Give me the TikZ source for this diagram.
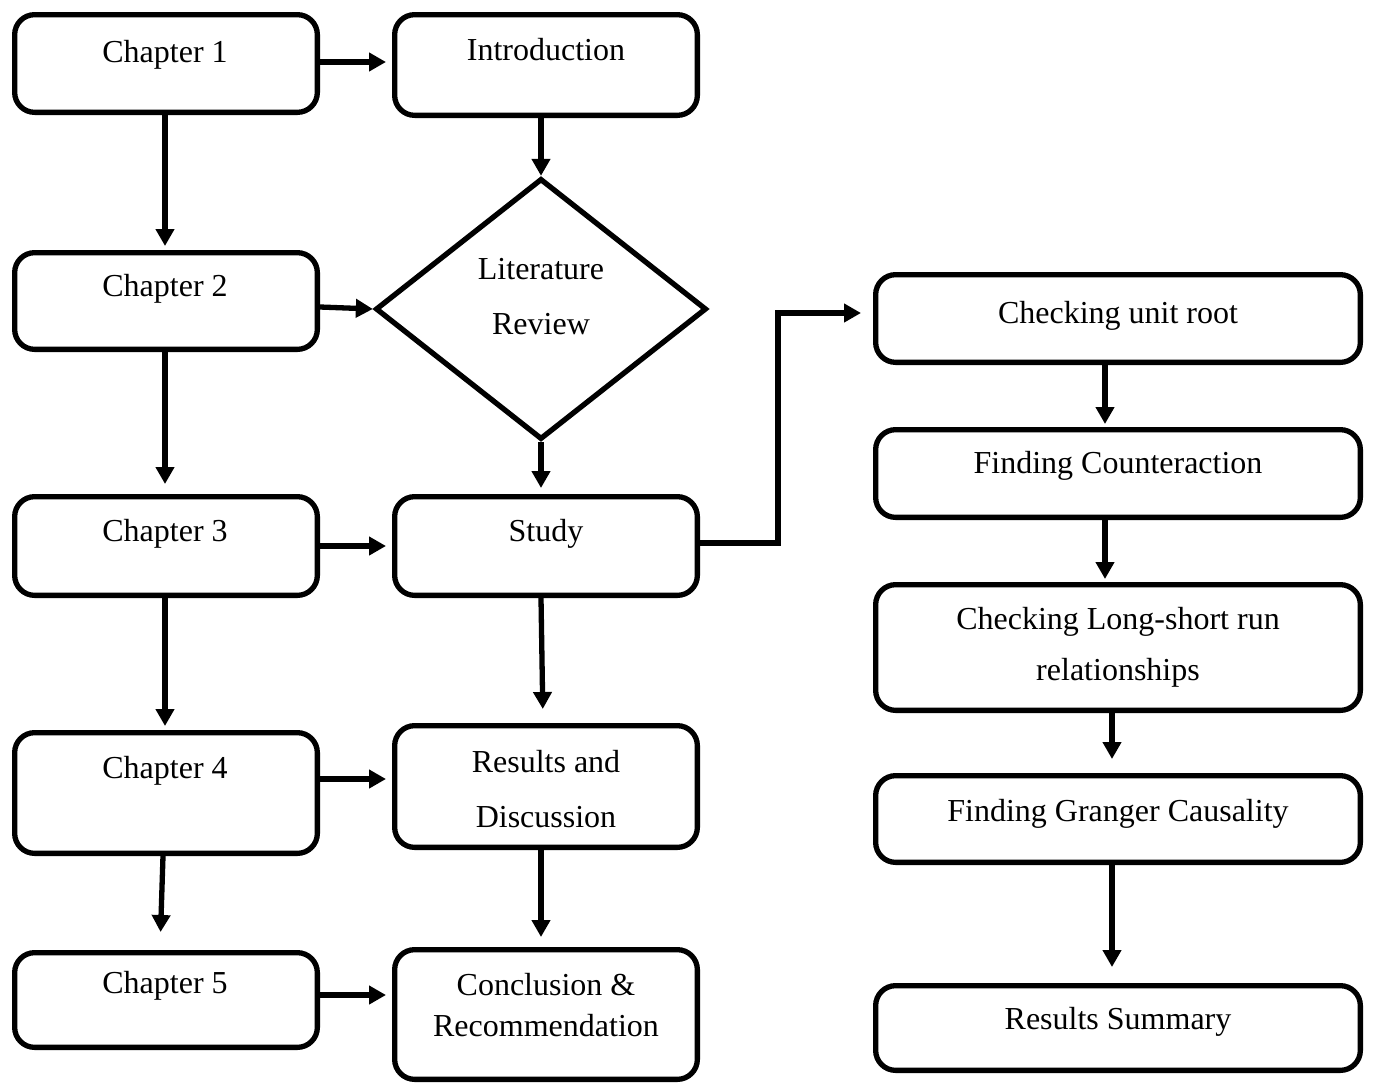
\documentclass[tikz,border=0pt]{standalone}
\usepackage{fontspec}
\setmainfont{Liberation Serif}
\usetikzlibrary{shapes.geometric,arrows.meta,calc}
\begin{document}
\begin{tikzpicture}[x=1pt,y=-1pt,
  box/.style={draw,line width=5.3pt,rounded corners=20pt,inner sep=0pt,minimum width=302.7pt},
  rbox/.style={box,minimum width=484.7pt},
  lbl/.style={anchor=base,inner sep=0pt,font=\fontsize{32}{40}\selectfont},
  arr/.style={line width=5.3pt,-{Triangle[length=17pt,width=18pt]}}]
\useasboundingbox (0,0) rectangle (1373,1084);
% left column boxes
\node[box,minimum height=97.7pt] (c1) at (166,63.5) {};
\node[box,minimum height=96.7pt] (c2) at (166,301) {};
\node[box,minimum height=98.7pt] (c3) at (166,546) {};
\node[box,minimum height=120.7pt] (c4) at (166,793) {};
\node[box,minimum height=94.7pt] (c5) at (166,1000) {};
% middle column
\node[box,minimum height=100.7pt] (intro) at (546,65) {};
\node[draw,diamond,line width=5.3pt,inner sep=0pt,minimum width=331pt,minimum height=261pt] (lit) at (541,309) {};
\node[box,minimum height=98.7pt] (study) at (546,546) {};
\node[box,minimum height=121.7pt] (res) at (546,786.5) {};
\node[box,minimum height=129.7pt] (conc) at (546,1014.5) {};
% right column
\node[rbox,minimum height=87.7pt] (r1) at (1118,318.5) {};
\node[rbox,minimum height=87.7pt] (r2) at (1118,473.5) {};
\node[rbox,minimum height=125.7pt] (r3) at (1118,647.5) {};
\node[rbox,minimum height=86.7pt] (r4) at (1118,819) {};
\node[rbox,minimum height=84.7pt] (r5) at (1118,1028) {};
% labels
\node[lbl] (tc1) at (165,62) {Chapter 1};
\node[lbl] (tc2) at (165,296) {Chapter 2};
\node[lbl] (tc3) at (165,541) {Chapter 3};
\node[lbl] (tc4) at (165,778) {Chapter 4};
\node[lbl] (tc5) at (165,993) {Chapter 5};
\node[lbl] (tintro) at (546,60) {Introduction};
\node[lbl] (tlit1) at (541,279) {Literature};
\node[lbl] (tlit2) at (541,334) {Review};
\node[lbl] (tstudy) at (546,541) {Study};
\node[lbl] (tres1) at (546,772) {Results and};
\node[lbl] (tres2) at (546,827) {Discussion};
\node[lbl] (tconc1) at (546,995) {Conclusion \&};
\node[lbl] (tconc2) at (546,1036) {Recommendation};
\node[lbl] (tr1) at (1118,323) {Checking unit root};
\node[lbl] (tr2) at (1118,473) {Finding Counteraction};
\node[lbl] (tr3a) at (1118,629) {Checking Long-short run};
\node[lbl] (tr3b) at (1118,680) {relationships};
\node[lbl] (tr4) at (1118,821) {Finding Granger Causality};
\node[lbl] (tr5) at (1118,1029) {Results Summary};
% connectors
\draw[arr,shorten >=6pt] ([yshift=1.5pt]c1.east) -- ([yshift=3pt]intro.west);
\draw[arr] (intro.south -| lit.north) -- (lit.north);
\draw[arr,shorten >=4pt] ([xshift=-1pt]c1.south) -- ([xshift=-1pt]c2.north);
\draw[arr] ([yshift=-6pt]c2.east) -- (lit.west);
\draw[arr,shorten >=10pt] ([xshift=-1pt]c2.south) -- ([xshift=-1pt]c3.north);
\draw[arr,shorten >=6pt] (lit.south) -- (lit.south |- study.north);
\draw[arr,shorten >=6pt] (c3.east) -- (study.west);
\coordinate (bend) at (778,543);
\coordinate (r1in) at ([yshift=5.5pt]r1.west);
\draw[arr,shorten >=12pt] ([yshift=3pt]study.east) -- (bend) -- (bend |- r1in) -- (r1in);
\draw[arr,shorten >=14pt] ([xshift=-5pt]study.south) -- ([xshift=-3pt]res.north);
\draw[arr,shorten >=4pt] ([xshift=-1pt]c3.south) -- ([xshift=-1pt]c4.north);
\draw[arr,shorten >=6pt] ([yshift=14pt]c4.east) -- ([yshift=7.5pt]res.west);
\draw[arr,shorten >=18pt] ([xshift=-3pt]c4.south) -- ([xshift=-6pt]c5.north);
\draw[arr,shorten >=10pt] ([xshift=-5pt]res.south) -- ([xshift=-5pt]conc.north);
\draw[arr,shorten >=6pt] ([yshift=5pt]c5.east) -- ([yshift=19.5pt]conc.west);
\draw[arr,shorten >=3pt] ([xshift=-13pt]r1.south) -- ([xshift=-13pt]r2.north);
\draw[arr,shorten >=3pt] ([xshift=-13pt]r2.south) -- ([xshift=-13pt]r3.north);
\draw[arr,shorten >=14pt] ([xshift=-6pt]r3.south) -- ([xshift=-6pt]r4.north);
\draw[arr,shorten >=16pt] ([xshift=-6pt]r4.south) -- ([xshift=-6pt]r5.north);
\end{tikzpicture}
\end{document}
